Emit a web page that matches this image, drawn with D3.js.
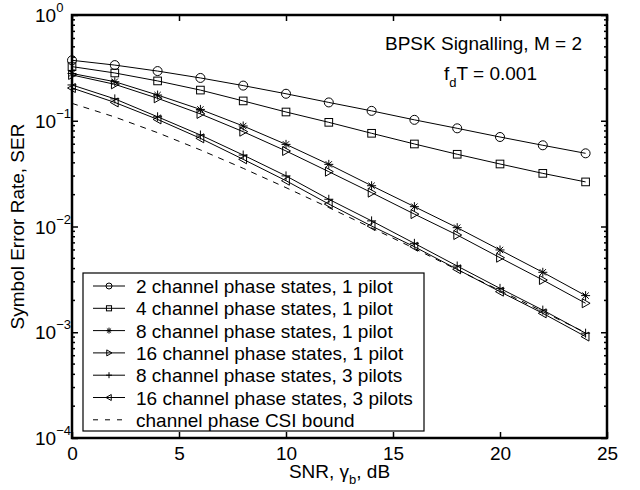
<!DOCTYPE html>
<html lang="en">
<head>
    <meta charset="UTF-8">
    <script src="https://d3js.org/d3.v7.min.js"></script>
    <title>SER vs SNR</title>
    <style>
        body{ margin:0; background:#fff; }
        text{ font-family: "Liberation Sans", Arial, sans-serif; fill:#000; }
        .curve{ fill:none; stroke:#000; stroke-width:1px; }
        .mk{ fill:none; stroke:#000; stroke-width:1px; }
    </style>
</head>
<body>
    <div id="chart"></div>
</body>
<script>
    // data
    var snr = [0, 2, 4, 6, 8, 10, 12, 14, 16, 18, 20, 22, 24];
    var ser2p1  = [0.373, 0.336, 0.295, 0.254, 0.215, 0.180, 0.149, 0.124, 0.102, 0.0848, 0.0702, 0.0586, 0.0492];
    var ser4p1  = [0.325, 0.283, 0.238, 0.195, 0.154, 0.121, 0.0966, 0.0761, 0.0603, 0.0482, 0.0390, 0.0318, 0.0264];
    var ser8p1  = [0.280, 0.234, 0.175, 0.128, 0.0892, 0.0598, 0.0387, 0.0243, 0.0154, 0.00975, 0.0060, 0.00369, 0.00222];
    var ser16p1 = [0.271, 0.221, 0.163, 0.116, 0.0788, 0.0518, 0.0330, 0.0209, 0.0131, 0.00831, 0.00507, 0.00312, 0.00188];
    var ser8p3  = [0.218, 0.161, 0.109, 0.0733, 0.0474, 0.0301, 0.0181, 0.0113, 0.00693, 0.00423, 0.0026, 0.00162, 0.00098];
    var ser16p3 = [0.204, 0.149, 0.103, 0.0682, 0.0432, 0.0271, 0.0163, 0.0101, 0.00644, 0.00394, 0.00242, 0.00151, 0.00091];
    var serBound = [0.146, 0.1085, 0.0771, 0.0530, 0.0355, 0.0233, 0.0151, 0.0097, 0.0062, 0.0039, 0.00248, 0.00157, 0.00099];

    var labels = ["2 channel phase states, 1 pilot", "4 channel phase states, 1 pilot",
                  "8 channel phase states, 1 pilot", "16 channel phase states, 1 pilot",
                  "8 channel phase states, 3 pilots", "16 channel phase states, 3 pilots",
                  "channel phase CSI bound"];
    var markers = ["circle", "square", "star", "tright", "plus", "tleft", "none"];
    var xTicks = [0, 5, 10, 15, 20, 25];
    var yExps = [0, -1, -2, -3, -4];

    var series = [ser2p1, ser4p1, ser8p1, ser16p1, ser8p3, ser16p3, serBound];

    // set the dimensions and margins of the graph
    var margin = {top: 15, right: 33, bottom: 52, left: 72},
        width = 640 - margin.left - margin.right,
        height = 490 - margin.top - margin.bottom;

    var svg = d3.select("#chart").append("svg")
                .attr("width", 640).attr("height", 490)
                .append("g").attr("transform", "translate(" + margin.left + "," + margin.top + ")");

    var x = d3.scaleLinear().domain([0, 25]).range([0, width]);
    var y = d3.scaleLog().domain([1e-4, 1]).range([height, 0]);

    // minor log ticks on left and right
    var minor = [];
    for (var e = -4; e < 0; e++) for (var k = 2; k <= 9; k++) minor.push(k * Math.pow(10, e));
    minor.forEach(function(v){
        svg.append("line").attr("x1", 0).attr("x2", 3).attr("y1", y(v)).attr("y2", y(v)).attr("stroke", "#000").attr("stroke-width", 1.5);
        svg.append("line").attr("x1", width - 3).attr("x2", width).attr("y1", y(v)).attr("y2", y(v)).attr("stroke", "#000").attr("stroke-width", 1.5);
    });

    // major ticks
    svg.append("g").attr("transform", "translate(0," + height + ")")
        .call(d3.axisBottom(x).tickValues(xTicks).tickSize(-6).tickPadding(9).tickFormat(d3.format("d")))
        .call(function(g){ g.select(".domain").remove(); g.selectAll("text").attr("font-size", 19).attr("font-family", "Liberation Sans, Arial"); g.selectAll("line").attr("stroke-width", 1.5); });
    svg.append("g")
        .call(d3.axisTop(x).tickValues(xTicks).tickSize(-6).tickFormat(""))
        .call(function(g){ g.select(".domain").remove(); g.selectAll("line").attr("stroke-width", 1.5); });
    svg.append("g")
        .call(d3.axisLeft(y).tickValues(yExps.map(function(p){ return Math.pow(10, p); })).tickSize(-6).tickFormat(""))
        .call(function(g){ g.select(".domain").remove(); g.selectAll("line").attr("stroke-width", 1.5); });
    svg.append("g").attr("transform", "translate(" + width + ",0)")
        .call(d3.axisRight(y).tickValues(yExps.map(function(p){ return Math.pow(10, p); })).tickSize(-6).tickFormat(""))
        .call(function(g){ g.select(".domain").remove(); g.selectAll("line").attr("stroke-width", 1.5); });

    // y tick labels 10^n
    yExps.forEach(function(p){
        var t = svg.append("text").attr("x", -37).attr("y", y(Math.pow(10, p)) + 7)
            .attr("font-size", 19);
        t.append("tspan").text("10");
        t.append("tspan").attr("dy", -10).attr("font-size", 13).text(p === 0 ? "0" : "\u2212" + (-p));
    });

    // curves
    var line = d3.line().x(function(d, i){ return x(snr[i]); }).y(function(d){ return y(d); });
    series.forEach(function(s, i){
        svg.append("path").attr("class", "curve").datum(s).attr("d", line)
            .attr("stroke-dasharray", markers[i] === "none" ? "6,6" : null);
    });

    // marker drawing
    function drawMarker(g, type, cx, cy, r){
        if (type === "circle") {
            g.append("circle").attr("class", "mk").attr("cx", cx).attr("cy", cy).attr("r", r).attr("fill", "#fff");
        } else if (type === "square") {
            g.append("rect").attr("class", "mk").attr("x", cx - r * 0.85).attr("y", cy - r * 0.85)
                .attr("width", r * 1.7).attr("height", r * 1.7).attr("fill", "#fff");
        } else if (type === "tright") {
            g.append("path").attr("class", "mk")
                .attr("d", "M" + (cx - r * 0.75) + "," + (cy - r) + "L" + (cx + r) + "," + cy + "L" + (cx - r * 0.75) + "," + (cy + r) + "Z");
        } else if (type === "tleft") {
            g.append("path").attr("class", "mk")
                .attr("d", "M" + (cx + r * 0.75) + "," + (cy - r) + "L" + (cx - r) + "," + cy + "L" + (cx + r * 0.75) + "," + (cy + r) + "Z");
        } else if (type === "plus") {
            g.append("path").attr("class", "mk")
                .attr("d", "M" + (cx - r) + "," + cy + "H" + (cx + r) + "M" + cx + "," + (cy - r) + "V" + (cy + r));
        } else if (type === "star") {
            var a = r * 0.7;
            g.append("path").attr("class", "mk")
                .attr("d", "M" + (cx - r) + "," + cy + "H" + (cx + r) + "M" + cx + "," + (cy - r) + "V" + (cy + r) +
                           "M" + (cx - a) + "," + (cy - a) + "L" + (cx + a) + "," + (cy + a) +
                           "M" + (cx - a) + "," + (cy + a) + "L" + (cx + a) + "," + (cy - a));
        }
    }

    series.forEach(function(s, i){
        if (markers[i] === "none") return;
        var g = svg.append("g");
        s.forEach(function(v, j){ drawMarker(g, markers[i], x(snr[j]), y(v), 4.5); });
    });

    // legend
    var lg = svg.append("g").attr("transform", "translate(11,258)");
    lg.append("rect").attr("width", 341).attr("height", 158).attr("fill", "#fff").attr("stroke", "#000").attr("stroke-width", 1.2);
    labels.forEach(function(lab, i){
        var ly = 13 + i * 22.3;
        lg.append("line").attr("x1", 10).attr("x2", 42).attr("y1", ly).attr("y2", ly)
            .attr("stroke", "#000").attr("stroke-width", 1)
            .attr("stroke-dasharray", markers[i] === "none" ? "5,7" : null);
        drawMarker(lg, markers[i], 26, ly, 3);
        lg.append("text").attr("x", 53).attr("y", ly + 7).attr("font-size", 19).text(lab);
    });

    // frame
    svg.append("rect").attr("width", width).attr("height", height)
        .attr("fill", "none").attr("stroke", "#000").attr("stroke-width", 2.5);

    // annotations
    svg.append("text").attr("x", 313).attr("y", 35).attr("font-size", 19).text("BPSK Signalling, M = 2");
    var fd = svg.append("text").attr("x", 372).attr("y", 65).attr("font-size", 19);
    fd.append("tspan").text("f");
    fd.append("tspan").attr("dy", 7).attr("font-size", 13).text("d");
    fd.append("tspan").attr("dy", -7).text("T = 0.001");

    // axis titles
    var xl = svg.append("text").attr("x", width / 2).attr("y", height + 40).attr("text-anchor", "middle").attr("font-size", 19);
    xl.append("tspan").text("SNR, \u03b3");
    xl.append("tspan").attr("dy", 6).attr("font-size", 13).text("b");
    xl.append("tspan").attr("dy", -6).text(", dB");

    svg.append("text").attr("transform", "translate(-48," + (height / 2) + ") rotate(-90)")
        .attr("text-anchor", "middle").attr("font-size", 19).text("Symbol Error Rate, SER");
</script>
</html>
